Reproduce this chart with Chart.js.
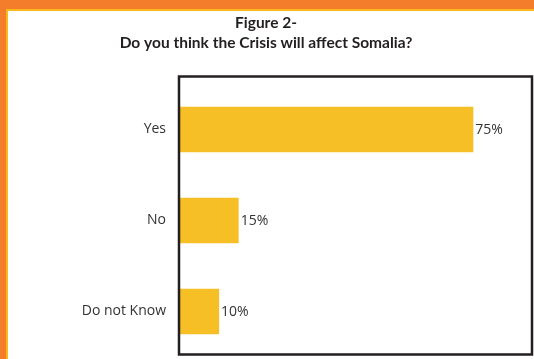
<!DOCTYPE html>
<html>
<head>
<meta charset="utf-8">
<script src="https://cdn.jsdelivr.net/npm/chart.js@4"></script>
<style>
  html, body { margin: 0; padding: 0; background: #ffffff; }
  #wrap { position: relative; width: 534px; height: 359px; }
</style>
</head>
<body>
<div id="wrap"><canvas id="chart" width="534" height="359"></canvas></div>
<script>
// Survey answers and their shares (%)
const categories = ['Yes', 'No', 'Do not Know'];
const shares = [75, 15, 10];
const titleLines = ['Figure 2-', 'Do you think the Crisis will affect Somalia?'];

const BAR_COLOR = '#F6BF25';
const TEXT_COLOR = '#333333';

// Page decoration: orange band with thin yellow rule along the top and left edge
const pageBackground = {
  id: 'pageBackground',
  beforeDraw(chart) {
    const { ctx, width, height } = chart;
    ctx.save();
    ctx.fillStyle = '#ffffff';
    ctx.fillRect(0, 0, width, height);
    ctx.fillStyle = '#F47D2B';
    ctx.fillRect(0, 0, width, 9);
    ctx.fillRect(0, 0, 6, height);
    ctx.fillStyle = '#FBB91C';
    ctx.fillRect(6, 9, width - 6, 2);
    ctx.fillRect(6, 9, 2, height - 9);
    ctx.restore();
  }
};

// Dark frame around the plotting region
const plotFrame = {
  id: 'plotFrame',
  afterDatasetsDraw(chart) {
    const { ctx, chartArea } = chart;
    ctx.save();
    ctx.strokeStyle = '#231F20';
    ctx.lineWidth = 2.5;
    const l = chartArea.left - 1;
    const t = chartArea.top - 7.5;
    const r = chartArea.right;
    const b = chartArea.bottom - 2.5;
    ctx.strokeRect(l, t, r - l, b - t);
    ctx.restore();
  }
};

// Percentage label just past the end of each bar
const valueLabels = {
  id: 'valueLabels',
  afterDatasetsDraw(chart) {
    const { ctx } = chart;
    const meta = chart.getDatasetMeta(0);
    ctx.save();
    ctx.font = '14px "Open Sans"';
    ctx.fillStyle = TEXT_COLOR;
    ctx.textAlign = 'left';
    ctx.textBaseline = 'middle';
    meta.data.forEach((bar, i) => {
      ctx.fillText(shares[i] + '%', bar.x + 2, bar.y + 0.5);
    });
    ctx.restore();
  }
};

new Chart(document.getElementById('chart'), {
  type: 'bar',
  data: {
    labels: categories,
    datasets: [{
      data: shares,
      backgroundColor: BAR_COLOR,
      borderWidth: 0,
      barPercentage: 0.5,
      categoryPercentage: 1.0
    }]
  },
  options: {
    indexAxis: 'y',
    responsive: false,
    animation: false,
    devicePixelRatio: 1,
    layout: { padding: { top: 8, right: 2, bottom: 2, left: 0 } },
    plugins: {
      legend: { display: false },
      tooltip: { enabled: false },
      title: {
        display: true,
        text: titleLines,
        color: '#231F20',
        font: { family: 'Lato', size: 15.5, weight: 'bold', lineHeight: 1.3 },
        padding: { top: 5, bottom: 30.7 }
      }
    },
    scales: {
      x: {
        display: false,
        min: 0,
        max: 90
      },
      y: {
        afterFit(scale) {
          scale.width = 180;
          scale.paddingTop = 0;
          scale.paddingBottom = 0;
        },
        border: { display: false },
        grid: { display: false, drawTicks: false },
        ticks: {
          color: TEXT_COLOR,
          padding: 14,
          font: { family: 'Open Sans', size: 14 }
        }
      }
    }
  },
  plugins: [pageBackground, plotFrame, valueLabels]
});
</script>
</body>
</html>
